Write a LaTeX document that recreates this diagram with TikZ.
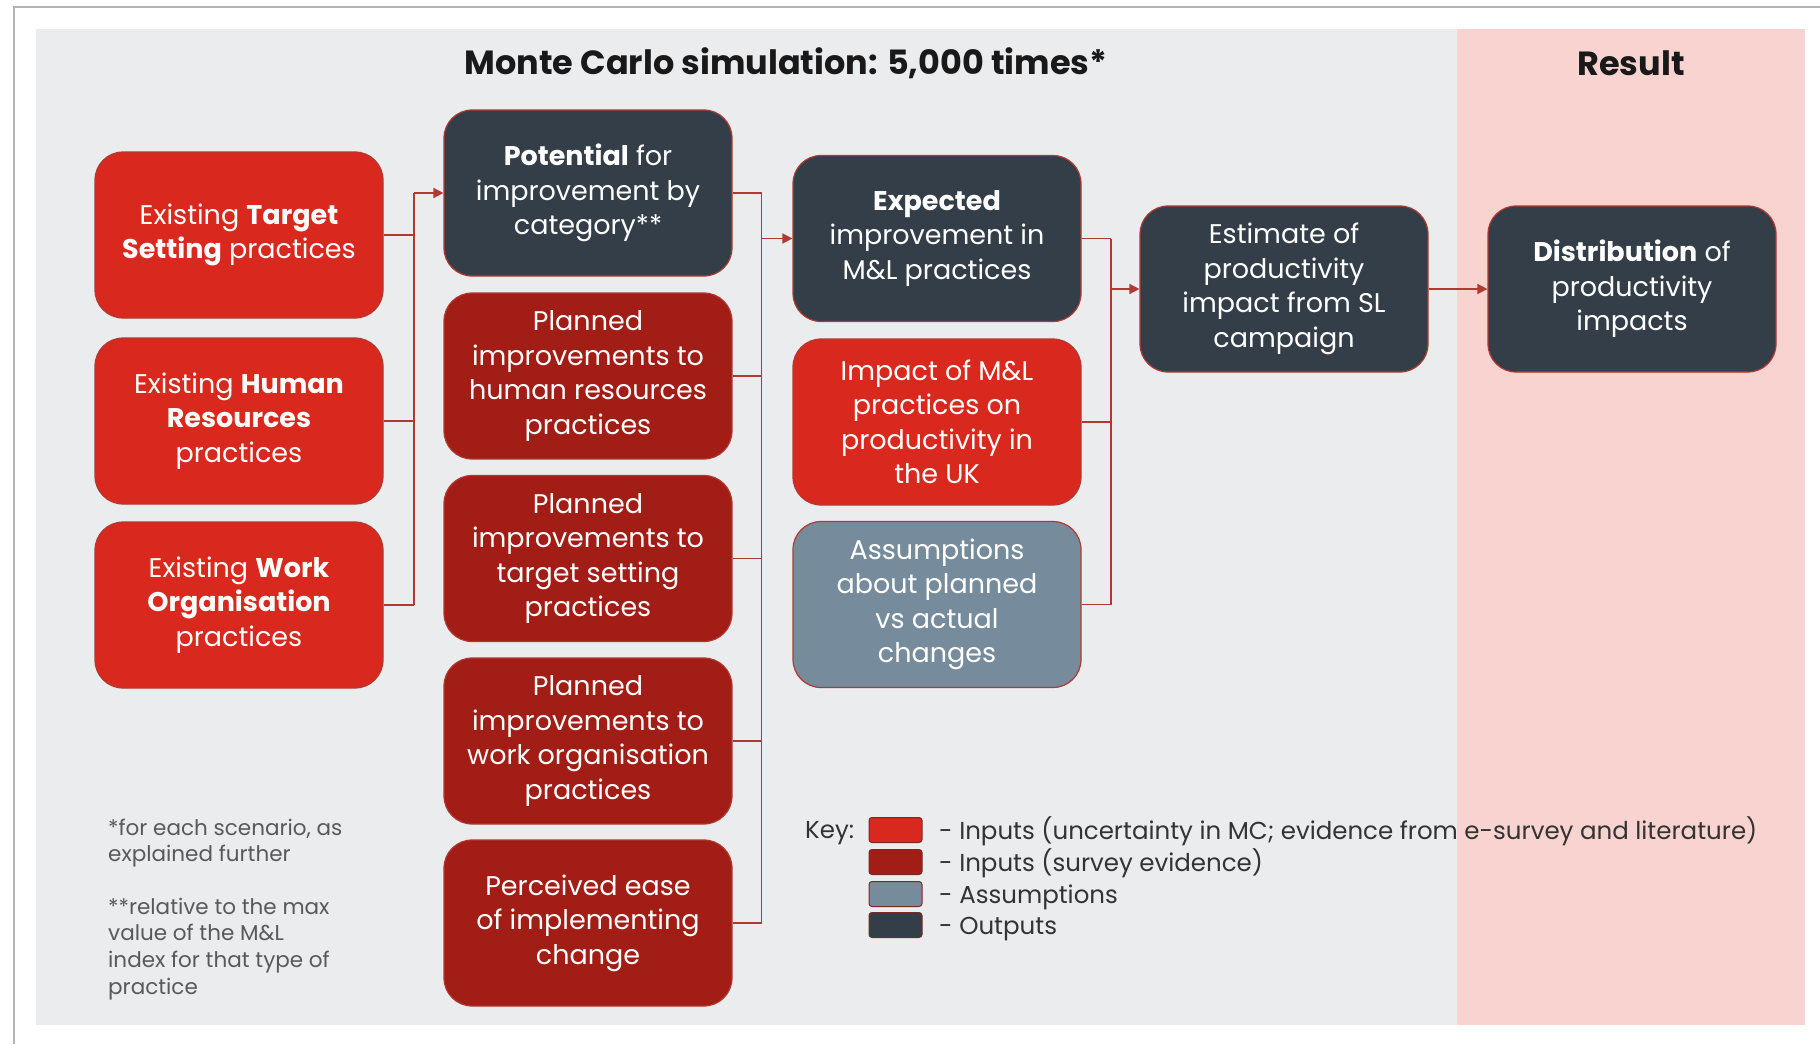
\documentclass[tikz,border=0pt]{standalone}
\usepackage{fontspec}
\setmainfont{Poppins}
\usetikzlibrary{arrows.meta}

\definecolor{bgGrey}{HTML}{EBECEE}
\definecolor{bgPink}{HTML}{F8D3D0}
\definecolor{inRed}{HTML}{D9281E}
\definecolor{inDark}{HTML}{A21D16}
\definecolor{assume}{HTML}{768B9B}
\definecolor{outDark}{HTML}{333E48}
\definecolor{wire}{HTML}{B03A32}
\definecolor{frameGrey}{HTML}{B3B3B3}
\definecolor{noteGrey}{HTML}{595959}
\definecolor{keyText}{HTML}{333333}

\tikzset{
  box/.style={rounded corners=28pt, draw=wire, line width=1.2pt, text=white,
    align=center, inner sep=0pt, minimum width=288pt, minimum height=166pt,
    font=\fontsize{27}{34.5}\selectfont},
  inbright/.style={box, fill=inRed},
  indark/.style={box, fill=inDark},
  assumebox/.style={box, fill=assume},
  outbox/.style={box, fill=outDark},
  link/.style={draw=wire, line width=1.6pt},
  feed/.style={link, -{Triangle[length=10pt,width=10pt]}},
  swatch/.style={rounded corners=3pt, draw=wire!70!black, line width=1pt,
    minimum width=53pt, minimum height=25pt, inner sep=0pt},
  keylabel/.style={anchor=base west, inner sep=0pt, text=keyText,
    font=\fontsize{24.5}{30}\selectfont},
  noteline/.style={anchor=base west, inner sep=0pt, text=noteGrey,
    font=\fontsize{21.5}{26}\selectfont},
  heading/.style={anchor=base, inner sep=0pt, text=black!90,
    font=\fontsize{33.5}{40}\selectfont\bfseries},
}

\begin{document}
\begin{tikzpicture}[x=1pt,y=-1pt]
\useasboundingbox (0,0) rectangle (1820,1044);

% page frame
\draw[frameGrey, line width=2pt] (14,1044) -- (14,7) -- (1820,7);

% panels
\fill[bgGrey] (36,29) rectangle (1457,1025);
\fill[bgPink] (1457,29) rectangle (1805,1025);

% headings
\node[heading] (title) at (786,74) {Monte Carlo simulation: 5,000 times*};
\node[heading] (result) at (1631,75) {Result};

% existing practices
\node[inbright] (ts) at (239,235) {Existing \textbf{Target}\\\textbf{Setting} practices};
\node[inbright] (hr) at (239,421) {Existing \textbf{Human}\\\textbf{Resources}\\practices};
\node[inbright] (wo) at (239,605) {Existing \textbf{Work}\\\textbf{Organisation}\\practices};

% potential and planned improvements
\node[outbox] (pot) at (588,193) {\textbf{Potential} for\\improvement by\\category**};
\node[indark] (phr) at (588,376) {Planned\\improvements to\\human resources\\practices};
\node[indark] (pts) at (588,558.5) {Planned\\improvements to\\target setting\\practices};
\node[indark] (pwo) at (588,741) {Planned\\improvements to\\work organisation\\practices};
\node[indark] (ease) at (588,923) {Perceived ease\\of implementing\\change};

% third column
\node[outbox] (exp) at (937,238.5) {\textbf{Expected}\\improvement in\\M\&L practices};
\node[inbright] (imp) at (937,422) {Impact of M\&L\\practices on\\productivity in\\the UK};
\node[assumebox] (ass) at (937,604.5) {Assumptions\\about planned\\vs actual\\changes};

% outputs
\node[outbox] (est) at (1284,289) {Estimate of\\productivity\\impact from SL\\campaign};
\node[outbox] (dist) at (1632,289) {\textbf{Distribution} of\\productivity\\impacts};

% bus lines
\coordinate (b1top) at (414,193);
\coordinate (b1bot) at (414,605);
\coordinate (b2top) at (761.5,193);
\coordinate (b2bot) at (761.5,923);
\coordinate (b2out) at (761.5,238.5);
\coordinate (b3top) at (1111,238.5);
\coordinate (b3bot) at (1111,604.5);
\coordinate (b3out) at (1111,289);

\draw[link] (ts.east) -- (ts.east -| b1top);
\draw[link] (hr.east) -- (hr.east -| b1top);
\draw[link] (wo.east) -- (b1bot);
\draw[link] (b1bot) -- (b1top);
\draw[feed] (b1top) -- (pot.west);

\draw[link] (pot.east) -- (b2top);
\draw[link] (phr.east) -- (phr.east -| b2top);
\draw[link] (pts.east) -- (pts.east -| b2top);
\draw[link] (pwo.east) -- (pwo.east -| b2top);
\draw[link] (ease.east) -- (b2bot);
\draw[link] (b2bot) -- (b2top);
\draw[feed] (b2out) -- (exp.west);

\draw[link] (exp.east) -- (b3top);
\draw[link] (imp.east) -- (imp.east -| b3top);
\draw[link] (ass.east) -- (b3bot);
\draw[link] (b3bot) -- (b3top);
\draw[feed] (b3out) -- (est.west);

\draw[feed] (est.east) -- (dist.west);

% footnotes
\node[noteline] (n1) at (108,835) {*for each scenario, as};
\node[noteline] (n2) at (108,861) {explained further};
\node[noteline] (n3) at (108,914) {**relative to the max};
\node[noteline] (n4) at (108,940) {value of the M\&L};
\node[noteline] (n5) at (108,967) {index for that type of};
\node[noteline] (n6) at (108,994) {practice};

% key
\node[keylabel] (key) at (805,838) {Key:};
\node[swatch, fill=inRed] (k1) at (895.5,830) {};
\node[swatch, fill=inDark] (k2) at (895.5,862) {};
\node[swatch, fill=assume] (k3) at (895.5,894) {};
\node[swatch, fill=outDark] (k4) at (895.5,925) {};
\node[keylabel] (k1t) at (939,839) {- Inputs (uncertainty in MC; evidence from e-survey and literature)};
\node[keylabel] (k2t) at (939,871) {- Inputs (survey evidence)};
\node[keylabel] (k3t) at (939,903) {- Assumptions};
\node[keylabel] (k4t) at (939,934) {- Outputs};
\end{tikzpicture}
\end{document}
